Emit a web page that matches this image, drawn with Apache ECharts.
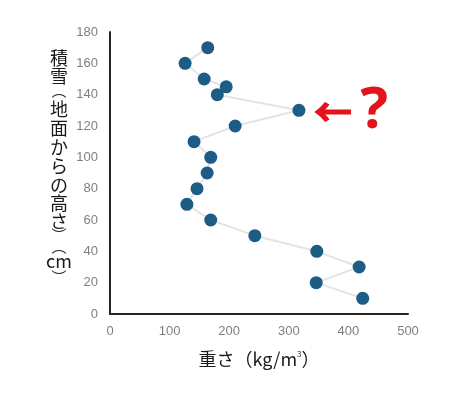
<!DOCTYPE html>
<html>
<head>
<meta charset="utf-8">
<script src="https://cdn.jsdelivr.net/npm/echarts@6/dist/echarts.min.js"></script>
<style>html,body{margin:0;padding:0;background:#fff}#c{width:460px;height:394px}</style>
</head>
<body>
<div id="c"></div>
<script>
// Data
var weights = [164, 126, 158, 195, 180, 317, 210, 141, 169, 163, 146, 129, 169, 243, 347, 418, 346, 424];
var heights = [170, 160, 150, 145, 140, 130, 120, 110, 100, 90, 80, 70, 60, 50, 40, 30, 20, 10];
var xTicks = [0, 100, 200, 300, 400, 500];
var yTicks = [0, 20, 40, 60, 80, 100, 120, 140, 160, 180];
var yLabelChars = ['積', '雪', '︵', '地', '面', 'か', 'ら', 'の', '高', 'さ', '︶', '︵', 'cm', '︶'];
var xName = '重さ（kg/m{sup|3}）';
var noteArrow = '←';
var noteMark = '?';

var chart = echarts.init(document.getElementById('c'), null, {renderer: 'canvas'});
var pts = weights.map(function (w, i) { return [w, heights[i]]; });
var yPos = [58, 76, 95, 109, 128, 147, 166, 185, 203, 221, 230, 251, 261, 272];
var cjk = '"Noto Sans CJK JP", "Noto Sans", sans-serif';
var graphics = yLabelChars.map(function (ch, i) {
  var y = yPos[i];
  var font = '18px ' + cjk;
  if (ch === '︵') { y -= 4.5; font = '15px ' + cjk; }
  if (ch === '︶') { y += 5.5; font = '15px ' + cjk; }
  return {
    type: 'text', x: 59, y: y,
    style: {text: ch, font: font, fill: '#1a1a1a', align: 'center', verticalAlign: 'middle'}
  };
});
graphics.push({
  type: 'text', x: 333, y: 112,
  style: {text: noteArrow, font: 'bold 38px ' + cjk, fill: '#e3131c', stroke: '#e3131c', lineWidth: 1.2, align: 'center', verticalAlign: 'middle'}
});
graphics.push({
  type: 'text', x: 374, y: 111,
  style: {text: noteMark, font: 'bold 58px "Noto Sans", "DejaVu Sans", sans-serif', fill: '#e3131c', align: 'center', verticalAlign: 'middle'}
});

chart.setOption({
  animation: false,
  backgroundColor: '#fff',
  grid: {left: 110, right: 52, top: 32, bottom: 80, containLabel: false},
  xAxis: {
    type: 'value', min: 0, max: 500, interval: 100,
    axisLine: {show: true, lineStyle: {color: '#262626', width: 2}},
    axisTick: {show: false},
    splitLine: {show: false},
    axisLabel: {color: '#7f7f7f', fontSize: 13, margin: 11, fontFamily: 'Liberation Sans, Arial, sans-serif',
      formatter: function (v) { return xTicks.indexOf(v) >= 0 ? String(v) : ''; }},
    name: xName, nameLocation: 'middle', nameGap: 36,
    nameTextStyle: {fontSize: 18, color: '#1a1a1a', fontFamily: cjk,
      rich: {sup: {fontSize: 8, verticalAlign: 'top', padding: [0, 0, 10, 0], color: '#1a1a1a'}}}
  },
  yAxis: {
    type: 'value', min: 0, max: 180, interval: 20,
    axisLine: {show: true, lineStyle: {color: '#262626', width: 2}},
    axisTick: {show: false},
    splitLine: {show: false},
    axisLabel: {color: '#7f7f7f', fontSize: 13, margin: 12, fontFamily: 'Liberation Sans, Arial, sans-serif',
      formatter: function (v) { return yTicks.indexOf(v) >= 0 ? String(v) : ''; }}
  },
  series: [{
    type: 'line',
    data: pts,
    symbol: 'circle',
    symbolSize: 13,
    itemStyle: {color: '#1d5c86'},
    lineStyle: {color: '#e4e4e4', width: 2},
    z: 3
  }],
  graphic: graphics
});
</script>
</body>
</html>
